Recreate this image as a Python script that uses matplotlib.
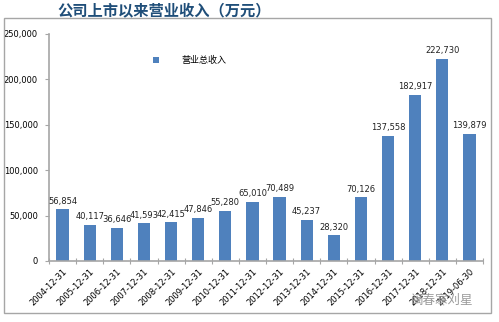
import matplotlib
matplotlib.use("Agg")
import matplotlib.pyplot as plt
from matplotlib.patches import Rectangle

plt.rcParams['font.family'] = ['Noto Sans CJK SC', 'DejaVu Sans']

categories = ["2004-12-31", "2005-12-31", "2006-12-31", "2007-12-31", "2008-12-31",
              "2009-12-31", "2010-12-31", "2011-12-31", "2012-12-31", "2013-12-31",
              "2014-12-31", "2015-12-31", "2016-12-31", "2017-12-31", "2018-12-31",
              "2019-06-30"]
revenue = [56854, 40117, 36646, 41593, 42415, 47846, 55280, 65010, 70489, 45237,
           28320, 70126, 137558, 182917, 222730, 139879]
y_ticks = [0, 50000, 100000, 150000, 200000, 250000]
title = "公司上市以来营业收入（万元）"
series_name = "营业总收入"
watermark = "闽春寒刈星"

fig = plt.figure(figsize=(4.99, 3.22), dpi=100)
fig.patches.append(Rectangle((4/499, 1-313/322), 487/499, 295/322, transform=fig.transFigure,
                             fill=False, edgecolor='#A6A6A6', linewidth=1.0))
ax = fig.add_axes([49/499, 1-261/322, 434/499, 227/322])

x = list(range(len(categories)))
bars = ax.bar(x, revenue, width=0.45, color='#4F81BD', label=series_name, zorder=2)
for xi, v in zip(x, revenue):
    ax.text(xi, v + 4000, f"{v:,}", ha='center', va='bottom', fontsize=6, color='#222222',
            family='DejaVu Sans')

ax.set_xlim(-0.5, len(categories) - 0.5)
ax.set_ylim(0, 250000)
ax.set_yticks(y_ticks)
ax.set_yticklabels([f"{t:,}" for t in y_ticks], fontsize=6, family='DejaVu Sans')
ax.set_xticks([i - 0.5 for i in x] + [len(x) - 0.5], minor=False)
ax.set_xticklabels([])
ax.set_xticks(x, minor=True)
ax.set_xticklabels(categories, minor=True, rotation=45, ha='right', rotation_mode='anchor',
                   fontsize=6, family='DejaVu Sans')
ax.tick_params(axis='x', which='minor', length=0, pad=4)
ax.tick_params(axis='x', which='major', length=4, color='#A6A6A6', direction='inout')
ax.tick_params(axis='y', length=3, color='#A6A6A6', pad=5)
for s in ['top', 'right']:
    ax.spines[s].set_visible(False)
for s in ['left', 'bottom']:
    ax.spines[s].set_color('#A6A6A6')
    ax.spines[s].set_linewidth(1.2)

leg = ax.legend(loc='upper left', bbox_to_anchor=(0.22, 0.94), frameon=False, fontsize=6.5,
                handlelength=0.7, handleheight=0.7, handletextpad=2.5)

fig.text(164/499, 1-10/322, title, ha='center', va='center', fontsize=11, fontweight='bold',
         color='#1F4E79')
fig.text(442/499, 1-300/322, watermark, ha='center', va='center', fontsize=9, color='#9A9A9A')

fig.savefig("out.png", dpi=100)
